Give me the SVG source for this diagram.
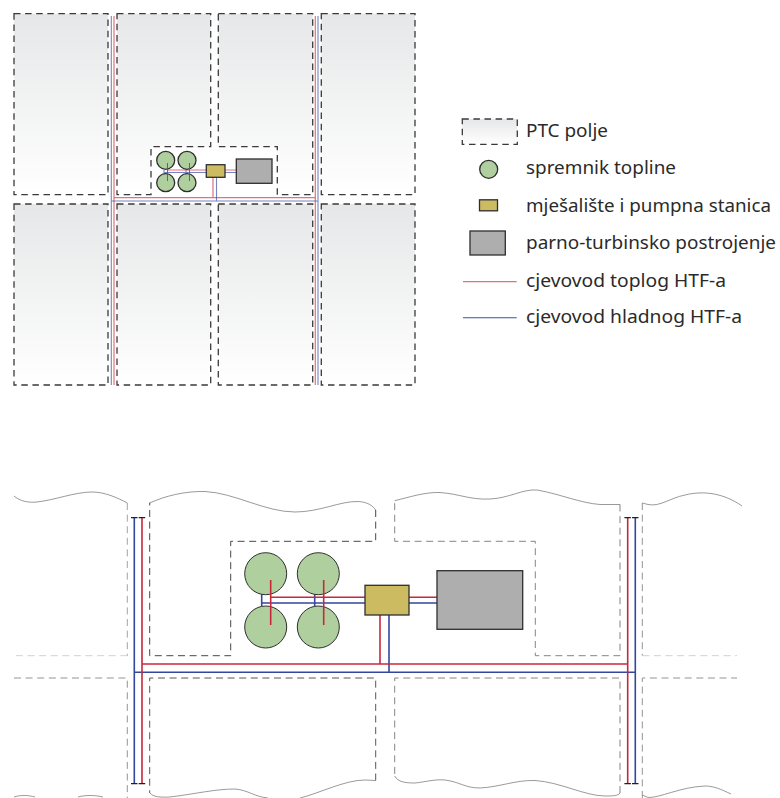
<svg xmlns="http://www.w3.org/2000/svg" width="780" height="798" viewBox="0 0 780 798">
<style>
text{font-family:"Noto Sans","Open Sans","Liberation Sans",sans-serif;font-size:18.9px;fill:#2b2a29}
.f{fill:url(#pg);stroke:#3a3a3a;stroke-width:1.3;stroke-dasharray:6.5 4.6}
.d{fill:none;stroke-width:.9;stroke-dasharray:7 4.6}
.w{fill:none;stroke:#555;stroke-width:.6}
.t{fill:#afcf9f;stroke:#2e2e2e;stroke-width:1.3}
.t2{fill:#afcf9f;stroke:#2e2e2e;stroke-width:1}
.m{fill:#cdbb62;stroke:#2e2e2e;stroke-width:1.3}
.g{fill:#aeaeae;stroke:#2e2e2e;stroke-width:1.3}
.hs{fill:none;stroke:#d9414f;stroke-width:1.2;opacity:.75}
.cs{fill:none;stroke:#3d4fa8;stroke-width:1.1;opacity:.7}
.h{fill:none;stroke:#c8283c;stroke-width:1.6}
.c{fill:none;stroke:#34479f;stroke-width:1.6}
.e{fill:none;stroke:#222;stroke-width:1.2}
</style>
<defs>
<linearGradient id="pg" x1="0" y1="0" x2="0" y2="1"><stop offset="0" stop-color="#e6e7e8"/><stop offset="1" stop-color="#fff"/></linearGradient>
</defs>
<g id="field-1"><rect class="f" x="14" y="13.7" width="94" height="181"/></g>
<g id="field-2"><path class="f" d="M117 13.7H210.7V146.7H151V194.7H117Z"/></g>
<g id="field-3"><path class="f" d="M218.3 13.7H312.7V194.7H277.3V146.7H218.3Z"/></g>
<g id="field-4"><rect class="f" x="321.3" y="13.7" width="93.7" height="181"/></g>
<g id="field-5"><rect class="f" x="14" y="204" width="94" height="181"/></g>
<g id="field-6"><rect class="f" x="117" y="204" width="93.7" height="181"/></g>
<g id="field-7"><rect class="f" x="218.3" y="204" width="94.4" height="181"/></g>
<g id="field-8"><rect class="f" x="321.3" y="204" width="93.7" height="181"/></g>
<g id="connectors-overview">
<path class="hs" d="M114 16V385M315.3 16V385M114 197.7H315.3M213 197.7V177M167 170H206M225 170H236.3"/>
<path class="cs" d="M111.3 16V385M318 16V385M111.3 201H318M216.5 201V177M164 172.5H206M225 172.5H236.3M164 170V175M186 170V175"/>
</g>
<g id="tanks-overview">
<circle class="t" cx="165.7" cy="160.3" r="9"/><circle class="t" cx="187" cy="160.3" r="9"/>
<circle class="t" cx="165.7" cy="182.7" r="9"/><circle class="t" cx="187" cy="182.7" r="9"/>
</g>
<path class="hs" style="stroke:#c8283c;stroke-width:.9;opacity:1" d="M167.5 163V181M189.5 163V181"/>
<g id="mixer-overview"><rect class="m" x="206.3" y="164.7" width="18.7" height="12.6"/></g>
<g id="plant-overview"><rect class="g" x="236.3" y="159" width="35.7" height="24.3"/></g>

<g id="legend">
<g id="legend-field"><rect class="f" x="462.3" y="119" width="55" height="25.3"/><text x="526" y="137.3" textLength="82" lengthAdjust="spacingAndGlyphs">PTC polje</text></g>
<g id="legend-tank"><circle class="t" cx="488.7" cy="169.3" r="9"/><text x="526" y="174.3" textLength="150" lengthAdjust="spacingAndGlyphs">spremnik topline</text></g>
<g id="legend-mixer"><rect class="m" x="479.5" y="199.8" width="18" height="11"/><text x="526" y="211.7" textLength="245" lengthAdjust="spacingAndGlyphs">mješalište i pumpna stanica</text></g>
<g id="legend-plant"><rect class="g" x="470" y="231" width="35.3" height="24"/><text x="526" y="249" textLength="250" lengthAdjust="spacingAndGlyphs">parno-turbinsko postrojenje</text></g>
<g id="legend-hot"><path class="hs" d="M463 281.7H516.7"/><text x="526" y="286.7" textLength="200" lengthAdjust="spacingAndGlyphs">cjevovod toplog HTF-a</text></g>
<g id="legend-cold"><path class="cs" style="opacity:1" d="M463 317.7H516.7"/><text x="526" y="323.3" textLength="216" lengthAdjust="spacingAndGlyphs">cjevovod hladnog HTF-a</text></g>
</g>

<g id="detail-field-1">
<path class="w" d="M14 496C20 501 28 503 37 502C55 500 75 492 92 492C105 492 118 498 127.3 503"/>
<path class="d" stroke="#999" d="M127.3 503V655.7"/><path class="d" stroke="#ccc" d="M127.3 655.7H14"/>
</g>
<g id="detail-field-2">
<path class="w" d="M149.7 503C165 496 185 491 205 491.5C235 493 265 512 295 512C320 512 340 501 358 501.5C368 502 373 506 375.7 510"/>
<path class="d" stroke="#333" d="M375.7 510V541.3H230.7V655.7H149.7V502.7"/>
</g>
<g id="detail-field-3">
<path class="w" d="M394.7 500.7C410 497 425 492 440 492.5C460 494 470 500 490 499C510 498 522 489 537 490C560 494 580 503 600 504.5L620 504.5"/>
<path class="d" stroke="#777" d="M620 504.5V655.7H535.3V541.3H394.7V500.7"/>
</g>
<g id="detail-field-4">
<path class="w" d="M642.3 503L648 504.5C660 507 670 498 685 495C705 490 725 494 742 506"/>
<path class="d" stroke="#888" d="M642.3 503V655.7"/><path class="d" stroke="#ccc" d="M642.3 655.7H737"/>
</g>
<g id="detail-field-5">
<path class="w" d="M14 797C20 795 28 795 35 797M78 797C85 795 95 795 103 797"/>
<path class="d" stroke="#888" d="M14 678H127.3V798"/>
</g>
<g id="detail-field-6">
<path class="w" d="M150 793C153 797 160 797.5 170 797C195 794 215 789 235 789C248 790 255 797 268 798M300 798C320 793 345 780 365 780L375.7 780.5"/>
<path class="d" stroke="#444" d="M375.7 780.5V678H149.7V793"/>
</g>
<g id="detail-field-7">
<path class="w" d="M394.7 776C398 782 405 783 415 783C425 782 435 779 445 780C460 782 465 788 480 788C500 787 515 780 535 780.5C560 782 585 796 605 796C612 796 618 796 620 793"/>
<path class="d" stroke="#777" d="M620 793V678H394.7V776"/>
</g>
<g id="detail-field-8">
<path class="w" d="M642.3 795L648 797.5C660 798 680 787 705 786C715 786 722 790 731 794"/>
<path class="d" stroke="#888" d="M642.3 798V678H737"/>
</g>

<g id="connectors-detail">
<path class="c" d="M134.3 517.7V783.7M635.3 517.7V783.7M134.3 672.3H635.3M261.7 594V606M314.7 594V606M261.7 603H365M409 603H437M389 615V672.3"/>
<path class="h" d="M142 517.7V783.7M627.7 517.7V783.7M142 664H627.7M270.7 597.3H365M409 597.3H437M380 615V664"/>
<path class="e" d="M131 517.7h6.5M138.7 517.7h6.5M624.4 517.7h6.5M632 517.7h6.5M131 783.7h6.5M138.7 783.7h6.5M624.4 783.7h6.5M632 783.7h6.5"/>
</g>
<g id="tank-1"><circle class="t2" cx="265.7" cy="573.7" r="21"/></g>
<g id="tank-2"><circle class="t2" cx="318.3" cy="573.7" r="21"/></g>
<g id="tank-3"><circle class="t2" cx="265.7" cy="627" r="21"/></g>
<g id="tank-4"><circle class="t2" cx="318.3" cy="627" r="21"/></g>
<path class="h" d="M270.7 580V625M323.7 580V625"/>
<g id="mixer"><rect class="m" x="365" y="585.3" width="44" height="29.7"/></g>
<g id="plant"><rect class="g" x="437" y="570.7" width="85.7" height="58.6"/></g>
</svg>
